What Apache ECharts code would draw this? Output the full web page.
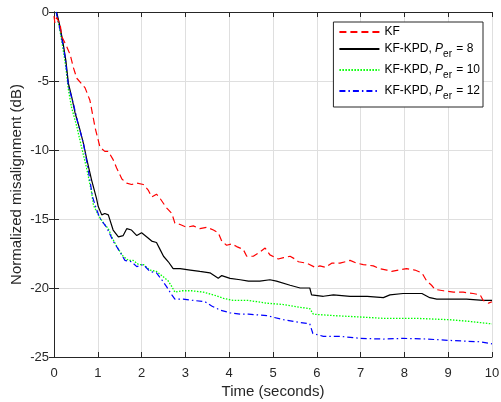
<!DOCTYPE html>
<html>
<head>
<meta charset="utf-8">
<script src="https://cdn.jsdelivr.net/npm/echarts@6/dist/echarts.min.js"></script>
<style>
  html, body { margin: 0; padding: 0; background: #fff; }
  #chart { width: 501px; height: 402px; }
</style>
</head>
<body>
<div id="chart"></div>
<script>
// values (time in seconds, misalignment in dB)
const kfTime = [0, 0.02, 0.06, 0.14, 0.18, 0.29, 0.37, 0.44, 0.52, 0.71, 0.82, 0.94, 1.05, 1.16, 1.24, 1.35, 1.43, 1.55, 1.66, 1.77, 1.89, 2.04, 2.15, 2.23, 2.34, 2.42, 2.46, 2.57, 2.69, 2.76, 2.88, 3.03, 3.18, 3.33, 3.49, 3.64, 3.75, 3.83, 3.94, 4.06, 4.17, 4.32, 4.40, 4.55, 4.70, 4.82, 4.93, 5.12, 5.24, 5.39, 5.50, 5.58, 5.77, 5.96, 6.07, 6.20, 6.34, 6.53, 6.76, 6.91, 7.06, 7.29, 7.44, 7.60, 7.71, 7.86, 8.05, 8.24, 8.40, 8.51, 8.62, 8.70, 8.89, 9.12, 9.34, 9.57, 9.73, 9.80, 9.92, 10];
const kfVal = [-0.3, -0.8, -0.4, -0.9, -1.8, -2.5, -3.1, -4.0, -4.8, -5.5, -6.4, -8.4, -9.8, -10.1, -10.1, -10.7, -11.3, -12.1, -12.4, -12.5, -12.4, -12.5, -12.9, -13.4, -13.2, -13.5, -13.6, -14.2, -14.6, -15.3, -15.4, -15.6, -15.5, -15.7, -15.6, -15.8, -16.0, -16.6, -16.9, -16.8, -17.0, -17.2, -17.7, -17.7, -17.4, -17.1, -17.6, -17.9, -17.8, -17.7, -17.9, -18.1, -18.2, -18.5, -18.4, -18.5, -18.2, -18.2, -18.0, -18.2, -18.3, -18.4, -18.6, -18.7, -18.8, -18.7, -18.6, -18.7, -18.9, -19.5, -19.8, -20.1, -20.2, -20.3, -20.3, -20.4, -20.5, -20.9, -21.1, -21.0];

const kpd8Time = [0.06, 0.14, 0.21, 0.27, 0.33, 0.40, 0.48, 0.59, 0.67, 0.75, 0.86, 0.97, 1.01, 1.09, 1.16, 1.24, 1.35, 1.47, 1.58, 1.66, 1.77, 1.89, 2.00, 2.12, 2.23, 2.34, 2.42, 2.50, 2.61, 2.72, 2.88, 3.11, 3.33, 3.56, 3.75, 3.83, 4.02, 4.25, 4.44, 4.70, 4.93, 5.08, 5.39, 5.62, 5.84, 5.88, 6.15, 6.38, 6.76, 7.15, 7.52, 7.67, 7.97, 8.40, 8.58, 8.74, 9.04, 9.42, 9.80, 10];
const kpd8Val = [0, -1.1, -2.3, -3.5, -5.2, -6.1, -7.3, -8.5, -9.5, -10.7, -12.2, -13.5, -14.1, -14.7, -14.6, -14.7, -15.8, -16.3, -16.2, -15.7, -15.8, -16.2, -16.0, -16.3, -16.6, -16.7, -17.2, -17.7, -18.1, -18.6, -18.6, -18.7, -18.8, -18.9, -19.3, -19.1, -19.3, -19.4, -19.5, -19.5, -19.4, -19.5, -19.8, -20.0, -20.0, -20.5, -20.6, -20.5, -20.6, -20.6, -20.7, -20.5, -20.4, -20.4, -20.7, -20.8, -20.8, -20.8, -20.9, -20.9];

const kpd10Time = [0.05, 0.14, 0.21, 0.27, 0.33, 0.40, 0.52, 0.63, 0.75, 0.86, 0.90, 1.01, 1.13, 1.24, 1.35, 1.47, 1.58, 1.70, 1.81, 1.93, 2.04, 2.19, 2.34, 2.50, 2.61, 2.69, 2.76, 2.92, 3.14, 3.41, 3.64, 3.87, 4.09, 4.44, 4.86, 5.24, 5.62, 5.84, 5.92, 6.38, 6.99, 7.52, 8.28, 9.04, 9.42, 10];
const kpd10Val = [0, -1.4, -2.75, -4.0, -5.65, -6.9, -8.3, -9.8, -11.4, -13.1, -14.0, -14.7, -15.3, -15.7, -16.5, -17.2, -17.7, -18.0, -18.0, -18.3, -18.3, -18.7, -18.8, -19.2, -19.5, -19.9, -20.3, -20.2, -20.2, -20.3, -20.5, -20.75, -20.9, -20.9, -21.1, -21.2, -21.4, -21.5, -21.9, -22.0, -22.1, -22.2, -22.2, -22.3, -22.4, -22.6];

const kpd12Time = [0.05, 0.14, 0.25, 0.33, 0.44, 0.55, 0.67, 0.78, 0.88, 0.97, 1.05, 1.20, 1.35, 1.47, 1.62, 1.77, 1.89, 2.04, 2.19, 2.34, 2.46, 2.57, 2.69, 2.76, 2.95, 3.18, 3.45, 3.60, 3.79, 4.02, 4.25, 4.44, 4.86, 5.24, 5.62, 5.84, 5.91, 6.15, 6.53, 6.99, 7.52, 7.97, 8.51, 9.04, 9.73, 10];
const kpd12Val = [0, -1.3, -3.2, -5.4, -6.6, -8.1, -9.5, -11.4, -13.4, -14.3, -14.95, -15.6, -16.6, -17.2, -18.0, -18.1, -18.45, -18.3, -18.8, -18.9, -19.4, -19.9, -20.5, -20.8, -20.8, -20.9, -21.0, -21.3, -21.6, -21.8, -21.9, -21.9, -22.0, -22.3, -22.5, -22.6, -23.3, -23.5, -23.5, -23.65, -23.7, -23.65, -23.7, -23.8, -23.9, -24.05];

const seriesNames = ['KF', 'KF-KPD, Per = 8', 'KF-KPD, Per = 10', 'KF-KPD, Per = 12'];
const legendRich = {
    'KF': '{n|KF}',
    'KF-KPD, Per = 8': '{n|KF-KPD, }{i|P}{s|er}{n| = 8}',
    'KF-KPD, Per = 10': '{n|KF-KPD, }{i|P}{s|er}{n| = 10}',
    'KF-KPD, Per = 12': '{n|KF-KPD, }{i|P}{s|er}{n| = 12}'
};

const zip = (t, v) => t.map((x, i) => [x, v[i]]);

const textColor = '#262626';
const font = 'Liberation Sans, Arial, Helvetica, sans-serif';

const chart = echarts.init(document.getElementById('chart'));

const axisBase = {
    type: 'value',
    axisLine: { show: true, lineStyle: { color: textColor, width: 1 } },
    axisTick: { show: true, inside: true, length: 5, lineStyle: { color: textColor } },
    splitLine: { show: false },
    axisLabel: { show: false }
};

const option = {
    animation: false,
    backgroundColor: '#fff',
    grid: { left: 54, right: 9, top: 12, bottom: 45, containLabel: false, outerBoundsMode: 'none' },
    legend: {
        data: seriesNames,
        orient: 'vertical',
        right: 18,
        top: 22,
        backgroundColor: '#fff',
        borderColor: textColor,
        borderWidth: 1,
        padding: [4, 3, 6, 5],
        itemWidth: 40,
        itemHeight: 10,
        itemGap: 5,
        itemStyle: { opacity: 0 },
        formatter: name => legendRich[name],
        textStyle: {
            color: '#000',
            fontFamily: font,
            fontSize: 12,
            rich: {
                n: { fontSize: 12, fontFamily: font, color: '#000', lineHeight: 20, verticalAlign: 'middle' },
                i: { fontSize: 12, fontFamily: font, color: '#000', fontStyle: 'italic', lineHeight: 20, verticalAlign: 'middle' },
                s: { fontSize: 10, fontFamily: font, color: '#000', lineHeight: 20, verticalAlign: 'bottom', padding: [0, 1, 0, 0] }
            }
        }
    },
    xAxis: [
        {
            type: 'value',
            min: 0, max: 10, interval: 1,
            name: 'Time (seconds)',
            nameLocation: 'middle',
            nameGap: 27,
            nameMoveOverlap: false,
            nameTextStyle: { color: textColor, fontSize: 15, fontFamily: font },
            axisLine: { show: true, onZero: false, lineStyle: { color: textColor, width: 1 } },
            axisTick: { show: true, inside: true, length: 5, lineStyle: { color: textColor } },
            axisLabel: { color: textColor, fontSize: 13, fontFamily: font, margin: 10 },
            splitLine: { show: true, lineStyle: { color: '#dfdfdf', width: 1 } }
        },
        Object.assign({}, axisBase, { position: 'top', min: 0, max: 10, interval: 1 })
    ],
    yAxis: [
        {
            type: 'value',
            min: -25, max: 0, interval: 5,
            name: 'Normalized misalignment (dB)',
            nameLocation: 'middle',
            nameGap: 30,
            nameMoveOverlap: false,
            nameTextStyle: { color: textColor, fontSize: 15, fontFamily: font },
            axisLine: { show: true, onZero: false, lineStyle: { color: textColor, width: 1 } },
            axisTick: { show: true, inside: true, length: 5, lineStyle: { color: textColor } },
            axisLabel: { color: textColor, fontSize: 13, fontFamily: font, margin: 5 },
            splitLine: { show: true, lineStyle: { color: '#dfdfdf', width: 1 } }
        },
        Object.assign({}, axisBase, { position: 'right', min: -25, max: 0, interval: 5 })
    ],
    series: [
        {
            name: seriesNames[0], type: 'line', data: zip(kfTime, kfVal),
            symbol: 'none', lineStyle: { color: '#ff0000', width: 1.2, type: [7, 4] },
            itemStyle: { color: '#ff0000' }, z: 5
        },
        {
            name: seriesNames[1], type: 'line', data: zip(kpd8Time, kpd8Val),
            symbol: 'none', lineStyle: { color: '#000000', width: 1.2, type: 'solid' },
            itemStyle: { color: '#000000' }, z: 4
        },
        {
            name: seriesNames[2], type: 'line', data: zip(kpd10Time, kpd10Val),
            symbol: 'none', lineStyle: { color: '#00ff00', width: 1.3, type: [1.5, 1.5] },
            itemStyle: { color: '#00ff00' }, z: 3
        },
        {
            name: seriesNames[3], type: 'line', data: zip(kpd12Time, kpd12Val),
            symbol: 'none', lineStyle: { color: '#0000ff', width: 1.2, type: [6, 3, 1.5, 3] },
            itemStyle: { color: '#0000ff' }, z: 4
        }
    ]
};

chart.setOption(option);
window.addEventListener('resize', () => chart.resize());
</script>
</body>
</html>
